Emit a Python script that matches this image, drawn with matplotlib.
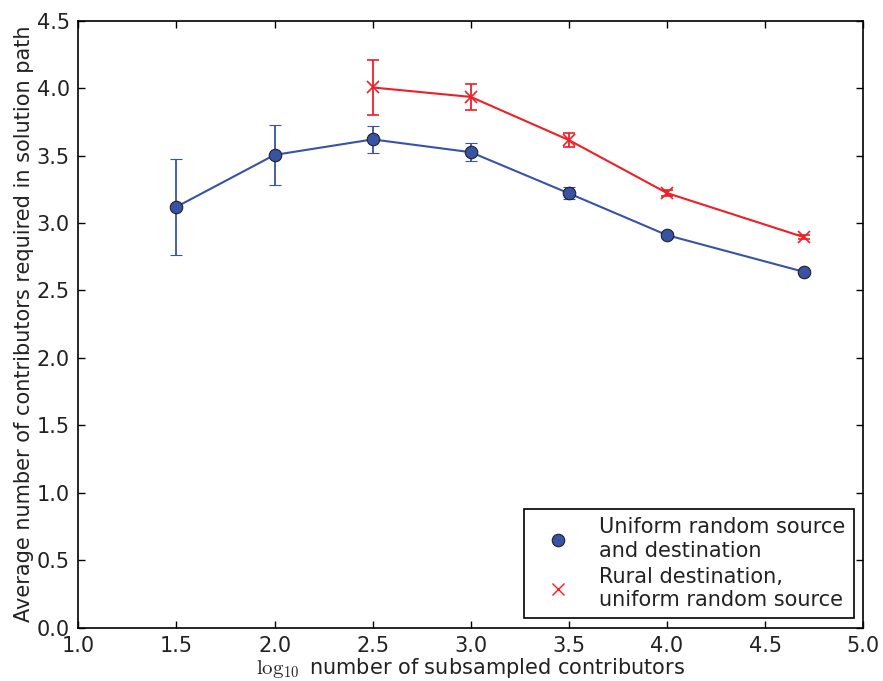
import numpy as np
import matplotlib
matplotlib.use("Agg")
import matplotlib.pyplot as plt
from matplotlib.lines import Line2D

plt.rcParams['mathtext.fontset'] = 'cm'
plt.rcParams['font.family'] = 'DejaVu Sans'
plt.rcParams['text.color'] = '#222222'
plt.rcParams['axes.labelcolor'] = '#222222'
plt.rcParams['xtick.labelcolor'] = '#222222'
plt.rcParams['ytick.labelcolor'] = '#222222'

# log10 number of subsampled contributors
x_uniform = [1.5, 2.0, 2.5, 3.0, 3.5, 4.0, 4.7]
y_uniform = [3.12, 3.505, 3.62, 3.525, 3.22, 2.91, 2.637]
err_uniform = [0.355, 0.225, 0.10, 0.065, 0.045, 0.02, 0.012]

x_rural = [2.5, 3.0, 3.5, 4.0, 4.7]
y_rural = [4.005, 3.935, 3.615, 3.222, 2.894]
err_rural = [0.207, 0.097, 0.055, 0.025, 0.016]

blue = '#3853a4'
red = '#ee1f26'

fig = plt.figure(figsize=(8.83, 6.81), dpi=100)
ax = fig.add_axes([0.0887, 0.0783, 0.8890, 0.8913])

ax.errorbar(x_uniform, y_uniform, yerr=err_uniform, color=blue, lw=1.5,
            marker='o', ms=9, mfc=blue, mec='#222222', mew=0.8,
            capsize=4, capthick=1.2, elinewidth=1.3)
ax.errorbar(x_rural, y_rural, yerr=err_rural, color=red, lw=1.5,
            marker='x', ms=9, mew=1.2,
            capsize=4, capthick=1.2, elinewidth=1.3)

ax.set_xlim(1.0, 5.0)
ax.set_ylim(0.0, 4.5)
ax.set_xticks(np.arange(1.0, 5.01, 0.5))
ax.set_yticks(np.arange(0.0, 4.51, 0.5))
ax.tick_params(direction='in', top=True, right=True, length=5, width=1,
               labelsize=15, pad=6)
for s in ax.spines.values():
    s.set_linewidth(1.2)

ax.set_xlabel(r'$\log_{10}$ number of subsampled contributors', fontsize=15,
              labelpad=0)
ax.set_ylabel('Average number of contributors required in solution path',
              fontsize=15, labelpad=2)

handles = [
    Line2D([], [], ls='none', marker='o', ms=9, mfc=blue, mec='#222222', mew=0.8),
    Line2D([], [], ls='none', marker='x', ms=9, color=red, mew=1.0),
]
labels = ['Uniform random source\nand destination',
          'Rural destination,\nuniform random source']
leg = ax.legend(handles, labels, loc='lower right', fontsize=15,
                fancybox=False, framealpha=1, edgecolor='black',
                handlelength=2.4, borderaxespad=0.45, labelspacing=0.3)
leg.get_frame().set_linewidth(1.2)

fig.savefig('out.png', dpi=100)
